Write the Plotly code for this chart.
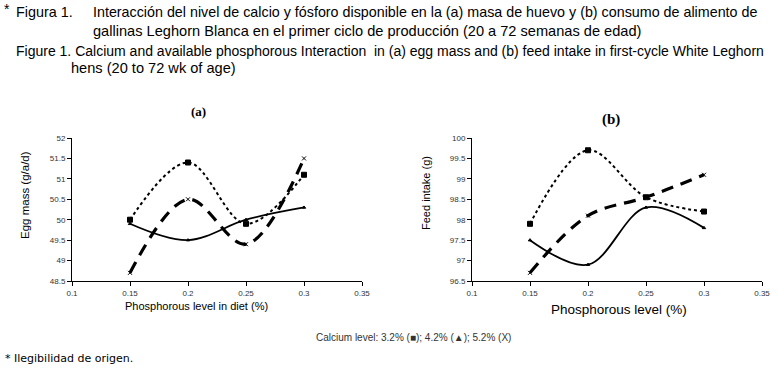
import plotly.graph_objects as go

phos = [0.15, 0.2, 0.25, 0.3]
# Panel (a) egg mass (g/a/d)
egg_ca32 = [50.0, 51.4, 49.9, 51.1]
egg_ca42 = [49.9, 49.5, 50.0, 50.3]
egg_ca52 = [48.7, 50.5, 49.4, 51.5]
# Panel (b) feed intake (g)
feed_ca32 = [97.9, 99.7, 98.55, 98.2]
feed_ca42 = [97.5, 96.9, 98.3, 97.8]
feed_ca52 = [96.7, 98.1, 98.55, 99.1]

x_ticks = [0.1, 0.15, 0.2, 0.25, 0.3, 0.35]
x_tick_text = ["0.1", "0.15", "0.2", "0.25", "0.3", "0.35"]
egg_ticks = [48.5, 49, 49.5, 50, 50.5, 51, 51.5, 52]
feed_ticks = [96.5, 97, 97.5, 98, 98.5, 99, 99.5, 100]

fig = go.Figure()

styles = [
    dict(dash="dot", width=2, symbol="square", size=5),
    dict(dash="solid", width=1.8, symbol="triangle-up", size=3),
    dict(dash="12px,8px", width=3.2, symbol="x-thin", size=4),
]

for ax, ys in [("", [egg_ca32, egg_ca42, egg_ca52]), ("2", [feed_ca32, feed_ca42, feed_ca52])]:
    for st, y in zip(styles, ys):
        fig.add_trace(go.Scatter(
            x=phos, y=y, mode="lines+markers",
            line=dict(color="black", dash=st["dash"], width=st["width"], shape="spline", smoothing=1.0),
            marker=dict(symbol=st["symbol"], size=st["size"], color="black",
                        line=dict(color="black", width=1)),
            xaxis="x" + ax, yaxis="y" + ax, showlegend=False, hoverinfo="skip",
        ))

sans = "Liberation Sans, Arial, sans-serif"
tickfont = dict(family=sans, size=8, color="#333333")
common_x = dict(range=[0.1, 0.35], tickvals=x_ticks, ticktext=x_tick_text, showline=True,
                linecolor="black", linewidth=1, ticks="outside", ticklen=4, tickcolor="black",
                showgrid=False, zeroline=False, tickfont=tickfont, automargin=False)
common_y = dict(showline=True, linecolor="black", linewidth=1, ticks="outside", ticklen=4,
                tickcolor="black", showgrid=False, zeroline=False, tickfont=tickfont, automargin=False)

W, H = 778, 374
def xd(a, b):
    return [a / W, b / W]
def yd(top, bottom):
    return [1 - bottom / H, 1 - top / H]

fig.update_layout(
    template="none",
    width=W, height=H,
    margin=dict(l=0, r=0, t=0, b=0, autoexpand=False),
    paper_bgcolor="white", plot_bgcolor="white",
    xaxis=dict(domain=xd(72, 362), anchor="y", **common_x),
    yaxis=dict(domain=yd(138, 281), anchor="x", range=[48.5, 52], tickvals=egg_ticks,
               ticktext=[str(v) for v in egg_ticks], **common_y),
    xaxis2=dict(domain=xd(472, 762), anchor="y2", **common_x),
    yaxis2=dict(domain=yd(138, 281), anchor="x2", range=[96.5, 100], tickvals=feed_ticks,
                ticktext=[str(v) for v in feed_ticks], **common_y),
)

ann = []
def add(text, x, y, font, xanchor="left", yanchor="middle", textangle=0):
    ann.append(dict(text=text, x=x / W, y=1 - y / H, xref="paper", yref="paper", showarrow=False,
                    xanchor=xanchor, yanchor=yanchor, font=font, textangle=textangle))

add("*", 2, 9, dict(family=sans, size=14, color="black"))
add("Figura 1.", 14, 12, dict(family=sans, size=14.4, color="black"))
add("Interacción del nivel de calcio y fósforo disponible en la (a) masa de huevo y (b) consumo de alimento de",
    91, 12, dict(family=sans, size=14.3, color="black"))
add("gallinas Leghorn Blanca en el primer ciclo de producción (20 a 72 semanas de edad)",
    91, 31, dict(family=sans, size=14.6, color="black"))
add("Figure 1. Calcium and available phosphorous Interaction  in (a) egg mass and (b) feed intake in first-cycle White Leghorn",
    14, 51, dict(family=sans, size=14.0, color="black"))
add("hens (20 to 72 wk of age)", 69, 68, dict(family=sans, size=14.6, color="black"))

serif = "Liberation Serif, Times New Roman, serif"
add("<b>(a)</b>", 198, 112, dict(family=serif, size=13, color="black"), xanchor="center")
add("<b>(b)</b>", 611, 120, dict(family=serif, size=15, color="black"), xanchor="center")

add("Egg mass (g/a/d)", 25, 195, dict(family=sans, size=11.5, color="black"), xanchor="center", textangle=-90)
add("Feed intake (g)", 426, 193, dict(family=sans, size=11, color="black"), xanchor="center", textangle=-90)
add("Phosphorous level in diet (%)", 196, 306, dict(family=sans, size=11, color="black"), xanchor="center")
add("Phosphorous level (%)", 619, 309, dict(family=sans, size=13.5, color="black"), xanchor="center")
add("Calcium level: 3.2% (■); 4.2% (▲); 5.2% (X)", 413, 337,
    dict(family=sans, size=10, color="#333333"), xanchor="center")
add("* Ilegibilidad de origen.", 3, 358, dict(family="DejaVu Sans, Verdana, sans-serif", size=11, color="black"))

fig.update_layout(annotations=ann)
fig.write_html("out.html", config={"displayModeBar": False},
               post_script="document.body.style.margin='0';")
